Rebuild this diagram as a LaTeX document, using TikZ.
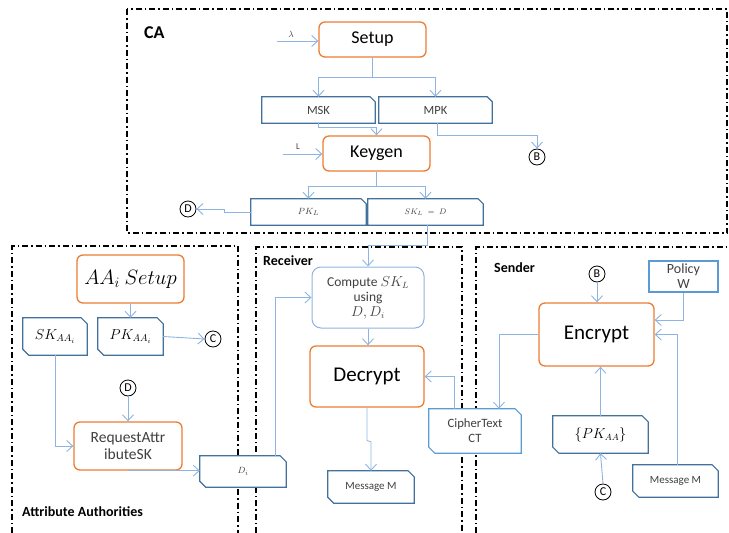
\documentclass[tikz,border=0pt]{standalone}
\usepackage{fontspec}
\setmainfont{Carlito}
\usetikzlibrary{arrows.meta,calc}
\pgfdeclarelayer{bg}
\pgfdeclarelayer{mid}
\pgfsetlayers{bg,mid,main}
\definecolor{orng}{HTML}{ED7D31}
\definecolor{dblue}{HTML}{41719C}
\definecolor{lblue}{HTML}{8DB4E2}
\definecolor{mblue}{HTML}{5B9BD5}
\definecolor{txtgray}{HTML}{404040}
\newcommand{\fsz}[2]{\fontsize{#1}{#2}\selectfont}
\tikzset{
  proc/.style={draw=orng, line width=1.3pt, rounded corners=6pt, fill=white, align=center, inner sep=0pt},
  dbox/.style={rectangle, inner sep=0pt, align=center, text=txtgray},
  outl/.style={draw=dblue, fill=white, line width=1.2pt, line join=miter},
  conn/.style={draw=lblue, line width=0.9pt},
  arr/.style={conn, -{Straight Barb[length=6pt,width=11pt]}},
  circ/.style={circle, draw=black, fill=white, line width=0.8pt, minimum size=16pt, inner sep=0pt, font=\fsz{12}{12}},
  frame/.style={line width=1.3pt, dash pattern=on 6pt off 3pt on 1.5pt off 3pt},
  sect/.style={font=\bfseries\fsz{14}{16}, anchor=west, inner sep=0pt}
}
\begin{document}
\begin{tikzpicture}[x=1pt,y=-1pt]
\useasboundingbox (0,0) rectangle (729,533);
% frames
\begin{pgfonlayer}{bg}
\draw[frame] (127,9) rectangle (727,233);
\draw[frame] (12,533) -- (12,246) -- (238,246) -- (238,533);
\draw[frame] (256,533) -- (256,247) -- (462,247) -- (462,533);
\draw[frame] (476,533) -- (476,247) -- (729,247);
\end{pgfonlayer}
% section labels
\node[sect, font=\bfseries\fsz{18}{20}] (lca) at (144,33) {CA};
\node[sect] (laa) at (22,512) {Attribute Authorities};
\node[sect] (lrec) at (263,261) {Receiver};
\node[sect] (lsen) at (494,268) {Sender};
% CA
\node[proc, minimum width=107pt, minimum height=35pt, font=\fsz{18}{20}] (setup) at (372.5,39.5) {Setup};
\node[dbox, minimum width=113pt, minimum height=26pt, font=\fsz{12.5}{14}] (msk) at (318.5,110) {MSK};
\node[dbox, minimum width=113pt, minimum height=26pt, font=\fsz{12.5}{14}] (mpk) at (435.5,110) {MPK};
\node[proc, minimum width=107pt, minimum height=35pt, font=\fsz{18}{20}] (keygen) at (376.5,153.5) {Keygen};
\node[dbox, minimum width=115pt, minimum height=26pt, font=\fsz{9.5}{10}] (pkl) at (308.5,212) {$PK_L$};
\node[dbox, minimum width=115pt, minimum height=26pt, font=\fsz{8.5}{9}] (skl) at (425.5,212) {$SK_L\;=\;D$};
\node[circ] (dca) at (188,209) {D};
\node[circ] (bca) at (537,157) {B};
\coordinate (lam) at (277,41);
\coordinate (lin) at (283,154);
\node[font=\fsz{9}{10}, text=txtgray, inner sep=0pt] (laml) at (291,34) {$\lambda$};
\node[font=\fsz{9}{10}, text=txtgray, inner sep=0pt] (ll) at (298,147) {L};
\coordinate (j1) at (372.5,77);
\coordinate (j2) at (376.5,186);
% Attribute authorities
\node[proc, minimum width=107pt, minimum height=48pt, font=\fsz{20}{22}] (aasetup) at (130.5,279) {$AA_i\ Setup$};
\node[dbox, minimum width=64pt, minimum height=37pt, font=\fsz{14}{16}, text=black] (skaa) at (55,336.5) {$SK_{AA_i}$};
\node[dbox, minimum width=65pt, minimum height=37pt, font=\fsz{14}{16}, text=black] (pkaa) at (130.5,336.5) {$PK_{AA_i}$};
\node[circ] (caa) at (213,339) {C};
\node[circ] (daa) at (128,388) {D};
\node[proc, minimum width=108pt, minimum height=48pt, font=\fsz{15.5}{17}, text=txtgray] (req) at (128,446) {RequestAttr\\ibuteSK};
\node[dbox, minimum width=86pt, minimum height=31pt, font=\fsz{9.5}{10}] (di) at (243,471.5) {$D_i$};
% Receiver
\node[draw=lblue, fill=white, line width=1pt, rounded corners=9pt, minimum width=112pt, minimum height=61pt, inner sep=0pt, align=center, font=\fsz{13.5}{15}, text=txtgray] (compute) at (368,297.5) {Compute $SK_L$\\using\\$D, D_i$};
\node[proc, minimum width=114pt, minimum height=61pt, font=\fsz{21}{23}] (decrypt) at (367,376.5) {Decrypt};
\node[dbox, minimum width=86pt, minimum height=32pt, font=\fsz{11}{12}] (msgr) at (371,487) {Message M};
\node[dbox, minimum width=92pt, minimum height=44pt, font=\fsz{12.7}{15}] (ct) at (475,431) {CipherText\\CT};
% Sender
\node[proc, minimum width=115pt, minimum height=63pt, font=\fsz{21}{23}] (encrypt) at (596.5,334.5) {Encrypt};
\node[circ] (bs) at (597,274) {B};
\node[draw=mblue, fill=white, line width=1.6pt, minimum width=69pt, minimum height=31pt, inner sep=0pt, align=center, font=\fsz{14}{15}, text=txtgray] (policy) at (683.5,276.5) {Policy\\W};
\node[dbox, minimum width=95pt, minimum height=37pt, font=\fsz{13.5}{15}, text=black] (pkaas) at (600.5,434.5) {$\{PK_{AA}\}$};
\node[circ] (cs) at (603,492) {C};
\node[dbox, minimum width=85pt, minimum height=32pt, font=\fsz{11}{12}] (msgs) at (675.5,481) {Message M};
% outlines (on a layer below the texts)
\begin{pgfonlayer}{mid}
\foreach \n in {msk,mpk,pkl,skl}
  \draw[outl] (\n.north west) -- ([xshift=-5pt]\n.north east) -- ([yshift=-5pt]\n.north east) -- (\n.south east) -- (\n.south west) -- cycle;
\foreach \n in {skaa,pkaa,di,msgr,pkaas,msgs}
  \draw[outl] (\n.north west) -- ([xshift=-6pt]\n.north east) -- ([yshift=-6pt]\n.north east) -- (\n.south east) -- ([xshift=6pt]\n.south west) -- ([yshift=6pt]\n.south west) -- cycle;
\draw[outl, draw=mblue] (ct.north west) -- ([xshift=-6pt]ct.north east) -- ([yshift=-6pt]ct.north east) -- (ct.south east) -- ([xshift=6pt]ct.south west) -- ([yshift=6pt]ct.south west) -- cycle;
\end{pgfonlayer}
% CA connectors
\draw[arr] (lam) -- (lam -| setup.west);
\draw[conn] (setup.south) -- (j1);
\draw[arr] (j1) -| (msk.north);
\draw[arr] (j1) -| (mpk.north);
\draw[arr] (msk.south) -- ++(0,4) -| (keygen.north);
\draw[arr] ([xshift=1.5pt]mpk.south) -- ++(0,12) -| (bca.north);
\draw[arr] (lin) -- (lin -| keygen.west);
\draw[conn] (keygen.south) -- (j2);
\draw[arr] (j2) -| (pkl.north);
\draw[arr] (j2) -| (skl.north);
\draw[arr] (pkl.west) -- ++(-26,0) -- ++(0,-3) -- (dca.east);
% AA connectors
\draw[arr] (aasetup.south) -- (pkaa.north);
\draw[arr] (pkaa.east) -- (caa.west);
\draw[arr] (skaa.south) |- (req.west);
\draw[arr] (daa.south) -- (req.north);
\draw[arr] (req.south) -- (di.west |- req.south);
% Receiver connectors
\draw[arr] (compute.south) -- (compute.south |- decrypt.north);
\draw[arr] ([xshift=1.5pt]skl.south) -- ++(0,20) -| (compute.north);
\draw[arr] ([xshift=32pt]di.north) |- (compute.west);
\draw[arr] ([xshift=-21pt]ct.north) |- (decrypt.east);
\draw[arr] (decrypt.south) -- ++(0,33) -- ++(4,1) -- (msgr.north);
% Sender connectors
\draw[arr] (bs.south) -- (bs.south |- encrypt.north);
\draw[arr] (policy.south) |- (encrypt.east |- 0,320);
\draw[arr] ([xshift=1.5pt]msgs.north) |- (encrypt.east);
\draw[arr] (encrypt.west) -| ([xshift=24pt]ct.north);
\draw[arr] (pkaas.north) -- (pkaas.north |- encrypt.south);
\draw[arr] (cs.north) -- (pkaas.south);
\end{tikzpicture}
\end{document}
